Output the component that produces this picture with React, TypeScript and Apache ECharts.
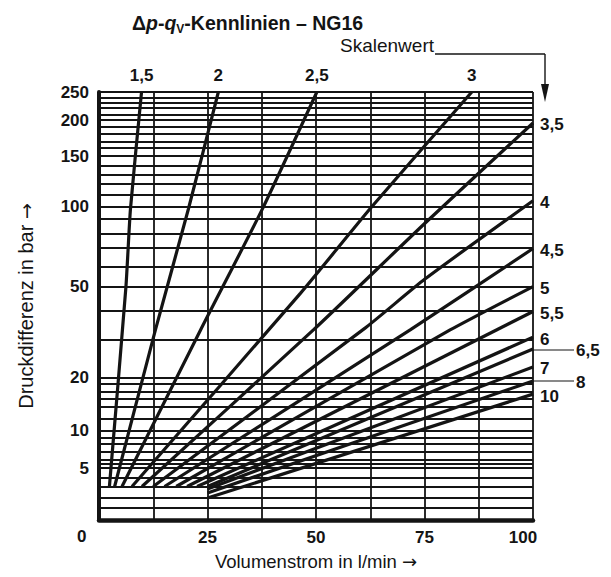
import React, { useEffect, useRef } from 'react';
import * as echarts from 'echarts';

// ---- scale: the pressure axis is drawn as ln(1 + p/10.5) ----
const SCALE_OFFSET = 10.5;
const T = (v: number) => Math.log(1 + v / SCALE_OFFSET);
const invT = (t: number) => SCALE_OFFSET * (Math.exp(t) - 1);

// ---- axes ----
const X_MIN = 0;
const X_MAX = 100;
const X_GRID_STEP = 12.5;
const xLabelValues = [25, 50, 75, 100];
const Y_MAX = 250;
const yLabelValues = [5, 10, 20, 50, 100, 150, 200, 250];
const yGridValues = [
  1, 2, 3, 4, 5, 5.5, 6, 7, 8, 9, 10, 12, 14, 15.5, 17, 18.5, 20, 30, 40, 50, 60, 70, 80, 90,
  100, 110, 120, 130, 140, 150, 160, 170, 180, 190, 200, 210, 220, 230, 240, 250,
];

// ---- curves: [q (l/min), Δp (bar)] ----
const c1_5 = [[2.4, 3], [6.2, 49.8], [7.25, 97.8], [9.8, 250]];
const c2 = [[3.6, 3], [13.0, 33.2], [20.6, 97.8], [27.5, 250]];
const c2_5 = [[5.3, 3], [23.4, 33.2], [37.6, 97.5], [50.2, 250]];
const c3 = [[7.6, 3], [46.4, 47], [62.6, 98.6], [85.9, 250]];
const c3_5 = [[9.9, 3], [49.4, 33.2], [75.1, 86.8], [100, 196]];
const c4 = [[12.5, 3], [61.3, 33.8], [75.1, 53.5], [100, 104.7]];
const c4_5 = [[15.1, 3], [71.7, 33.2], [100, 70]];
const c5 = [[17.8, 3], [80.9, 33.2], [100, 50]];
const c5_5 = [[20.3, 3], [100, 39.7]];
const c6 = [[22.6, 3], [100, 30.9]];
const c6_5 = [[25, 3], [100, 27.4]];
const c7 = [[25, 2.75], [100, 22.6]];
const c8 = [[25, 2.36], [100, 19.3]];
const c10 = [[25, 1.88], [100, 16.5]];

const curveNames = ['1,5', '2', '2,5', '3', '3,5', '4', '4,5', '5', '5,5', '6', '6,5', '7', '8', '10'];
const curveData = [c1_5, c2, c2_5, c3, c3_5, c4, c4_5, c5, c5_5, c6, c6_5, c7, c8, c10];
const topLabelled = ['1,5', '2', '2,5', '3'];
const offsetLabelled = ['6,5', '8'];

const FONT = "'Liberation Sans Narrow', 'Liberation Sans', Arial, sans-serif";
const FONT_REG = "'Liberation Sans', Arial, Helvetica, sans-serif";
const FONT_ARROW = "'DejaVu Sans', sans-serif";
const INK = '#141414';

export default function App() {
  const ref = useRef<HTMLDivElement>(null);

  useEffect(() => {
    if (!ref.current) return;
    const chart = echarts.init(ref.current, undefined, { renderer: 'svg' });

    const curveSeries = curveNames.map((name, i) => {
      const pts = curveData[i].map(([q, v]) => [q, T(v)]);
      const last = pts[pts.length - 1];
      const isTop = topLabelled.includes(name);
      const isOffset = offsetLabelled.includes(name);
      return {
        type: 'line',
        name,
        data: pts,
        symbol: 'none',
        showSymbol: false,
        smooth: 0.2,
        silent: true,
        z: 3,
        lineStyle: { color: INK, width: 3.2 },
        markPoint: {
          symbol: 'circle',
          symbolSize: 2,
          silent: true,
          itemStyle: { color: 'rgba(0,0,0,0)' },
          data: [{ coord: last }],
          label: {
            show: true,
            formatter: name,
            position: isTop ? 'top' : 'right',
            distance: isTop ? 7 : 6,
            offset: isOffset ? [36, 2] : [0, isTop ? 0 : 2],
            color: INK,
            fontFamily: FONT,
            fontWeight: 'bold',
            fontSize: 17,
          },
        },
      };
    });

    chart.setOption({
      animation: false,
      backgroundColor: '#fff',
      title: {
        left: 127,
        top: 6,
        text: '{a|Δ}{b|p}{a|-}{b|q}{c|V}{a|-Kennlinien – NG16}',
        textStyle: {
          rich: {
            a: { fontSize: 19.5, fontWeight: 'bold', fontFamily: FONT_REG, color: INK, lineHeight: 24 },
            b: { fontSize: 19.5, fontWeight: 'bold', fontStyle: 'italic', fontFamily: FONT_REG, color: INK, lineHeight: 24 },
            c: { fontSize: 12, fontFamily: FONT_REG, color: INK, lineHeight: 10, verticalAlign: 'bottom' },
          },
        },
      },
      grid: { left: 99, right: 78, top: 92, bottom: 57 },
      xAxis: {
        type: 'value',
        min: X_MIN,
        max: X_MAX,
        interval: X_GRID_STEP,
        name: 'Volumenstrom in l/min {ar|→}',
        nameLocation: 'middle',
        nameGap: 32,
        nameTextStyle: {
          fontFamily: FONT_REG,
          fontSize: 18.5,
          color: INK,
          rich: { ar: { fontFamily: FONT_ARROW, fontSize: 18, color: INK } },
        },
        axisLine: { show: true, onZero: false, lineStyle: { color: INK, width: 4.5 } },
        axisTick: { show: false },
        axisLabel: {
          margin: 9,
          color: INK,
          fontFamily: FONT,
          fontWeight: 'bold',
          fontSize: 17,
          formatter: (v: number) =>
            xLabelValues.includes(v) ? (v === X_MAX ? `{r|${v}}` : String(v)) : '',
          rich: {
            r: { fontFamily: FONT, fontWeight: 'bold', fontSize: 17, color: INK, padding: [0, 20, 0, 0] },
          },
        },
        splitLine: { show: true, lineStyle: { color: INK, width: 1.8 } },
      },
      yAxis: {
        type: 'value',
        min: 0,
        max: T(Y_MAX),
        name: 'Druckdifferenz in bar {ar|→}',
        nameLocation: 'middle',
        nameGap: 63,
        nameTextStyle: {
          fontFamily: FONT_REG,
          fontSize: 20,
          color: INK,
          rich: { ar: { fontFamily: FONT_ARROW, fontSize: 19, color: INK } },
        },
        axisLine: { show: true, lineStyle: { color: INK, width: 4 } },
        axisTick: { show: false },
        axisLabel: {
          margin: 10,
          color: INK,
          fontFamily: FONT,
          fontWeight: 'bold',
          fontSize: 17,
          customValues: yLabelValues.map(T),
          formatter: (t: number) => String(Math.round(invT(t))),
        },
        splitLine: { show: false },
      },
      graphic: [
        { type: 'text', left: 77, top: 528, style: { text: '0', fontFamily: FONT, fontWeight: 'bold', fontSize: 17, fill: INK } },
        {
          type: 'text',
          x: 434,
          y: 45,
          style: { text: 'Skalenwert', fontFamily: FONT_REG, fontSize: 19, fill: INK, align: 'right', verticalAlign: 'middle' },
        },
        { type: 'line', shape: { x1: 435, y1: 54, x2: 545, y2: 54 }, style: { stroke: INK, lineWidth: 1.4 } },
        { type: 'line', shape: { x1: 545, y1: 54, x2: 545, y2: 88 }, style: { stroke: INK, lineWidth: 1.4 } },
        { type: 'polygon', shape: { points: [[541, 84], [549, 84], [545, 102]] }, style: { fill: INK } },
        { type: 'line', shape: { x1: 533, y1: 350, x2: 574, y2: 350 }, style: { stroke: INK, lineWidth: 1.2 } },
        { type: 'line', shape: { x1: 533, y1: 381, x2: 574, y2: 381 }, style: { stroke: INK, lineWidth: 1.2 } },
      ],
      series: [
        {
          type: 'line',
          data: [],
          silent: true,
          z: 1,
          markLine: {
            silent: true,
            symbol: ['none', 'none'],
            label: { show: false },
            lineStyle: { color: INK, width: 1.8, type: 'solid' },
            data: yGridValues.map((v) => ({ yAxis: T(v) })),
          },
        },
        ...curveSeries,
      ],
    });

    return () => chart.dispose();
  }, []);

  return <div ref={ref} style={{ position: 'fixed', left: 0, top: 0, width: 611, height: 577 }} />;
}
